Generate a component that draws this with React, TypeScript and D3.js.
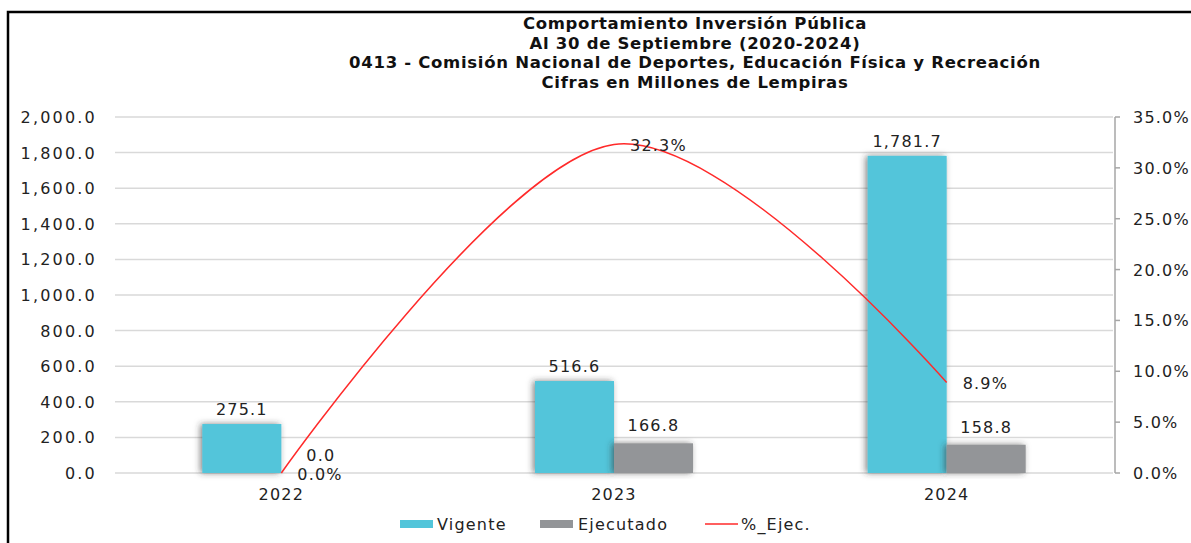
import { useEffect, useRef } from "react"
import * as d3 from "d3"

// chart data
const categories = ["2022", "2023", "2024"]
const vigente = [275.1, 516.6, 1781.7]
const ejecutado = [0.0, 166.8, 158.8]
const pctEjec = [0.0, 32.3, 8.9]
const leftTicks = [0, 200, 400, 600, 800, 1000, 1200, 1400, 1600, 1800, 2000]
const rightTicks = [0, 5, 10, 15, 20, 25, 30, 35]
const titleLines = [
	"Comportamiento Inversión Pública",
	"Al 30 de Septiembre (2020-2024)",
	"0413 - Comisión Nacional de Deportes, Educación Física y Recreación",
	"Cifras en Millones de Lempiras",
]

const FONT = "'DejaVu Sans', sans-serif"
const CYAN = "#52c5da"
const GRAY = "#939598"
const RED = "#ff2a2a"

const App = () => {
	const svgRef = useRef(null)

	useEffect(() => {
		document.body.style.margin = "0"
		const width = 1191
		const height = 543
		const svg = d3.select(svgRef.current).attr("width", width).attr("height", height)
		svg.selectAll("*").remove()

		const left = 115
		const right = 1113
		const top = 117
		const bottom = 473

		// soft shadow behind the bars
		const defs = svg.append("defs")
		const f = defs.append("filter").attr("id", "shadow").attr("x", "-20%").attr("y", "-20%").attr("width", "140%").attr("height", "140%")
		f.append("feDropShadow")
			.attr("dx", -2)
			.attr("dy", 0)
			.attr("stdDeviation", 3)
			.attr("flood-color", "#333")
			.attr("flood-opacity", 0.6)

		// frame
		svg.append("rect").attr("x", 8).attr("y", 12).attr("width", 1300).attr("height", 600)
			.attr("fill", "white").attr("stroke", "black").attr("stroke-width", 2.5)

		// title
		svg.append("g").selectAll("text").data(titleLines).enter().append("text")
			.attr("x", 695)
			.attr("y", (d, i) => 29 + i * 19.5)
			.attr("text-anchor", "middle")
			.attr("font-family", FONT)
			.attr("font-weight", "bold")
			.attr("font-size", 16.5)
			.attr("letter-spacing", 0.7)
			.attr("fill", "#111")
			.text(d => d)

		const x0 = d3.scaleBand().domain(categories).range([left, right]).paddingInner(0.525).paddingOuter(0.2625)
		const x1 = d3.scaleBand().domain(["v", "e"]).range([0, x0.bandwidth()])
		const y = d3.scaleLinear().domain([0, 2000]).range([bottom, top])
		const y2 = d3.scaleLinear().domain([0, 35]).range([bottom, top])

		// gridlines
		svg.append("g").selectAll("line").data(leftTicks).enter().append("line")
			.attr("x1", left).attr("x2", right)
			.attr("y1", d => y(d)).attr("y2", d => y(d))
			.attr("stroke", "#d9d9d9").attr("stroke-width", 1.5)

		// left axis labels
		svg.append("g").selectAll("text").data(leftTicks).enter().append("text")
			.attr("x", 97).attr("y", d => y(d) + 6)
			.attr("text-anchor", "end")
			.attr("font-family", FONT).attr("font-size", 16).attr("letter-spacing", 2.2)
			.attr("fill", "#222")
			.text(d => d3.format(",.1f")(d))

		// right axis
		const rAxis = svg.append("g").attr("transform", `translate(${right + 2},0)`)
		rAxis.append("line").attr("x1", 0).attr("x2", 0).attr("y1", top).attr("y2", bottom).attr("stroke", "#a6a6a6").attr("stroke-width", 1.5)
		rAxis.selectAll("line.t").data(rightTicks).enter().append("line").attr("class", "t")
			.attr("x1", 0).attr("x2", 5).attr("y1", d => y2(d)).attr("y2", d => y2(d))
			.attr("stroke", "#a6a6a6").attr("stroke-width", 1.5)
		rAxis.selectAll("text").data(rightTicks).enter().append("text")
			.attr("x", 18).attr("y", d => y2(d) + 6)
			.attr("font-family", FONT).attr("font-size", 16).attr("letter-spacing", 1.2)
			.attr("fill", "#222")
			.text(d => d3.format(".1f")(d) + "%")

		// bars
		const groups = svg.append("g").selectAll("g").data(categories).enter().append("g")
			.attr("transform", d => `translate(${x0(d)},0)`)
		groups.append("rect")
			.attr("x", x1("v")!).attr("width", x1.bandwidth())
			.attr("y", (d, i) => y(vigente[i])).attr("height", (d, i) => bottom - y(vigente[i]))
			.attr("fill", CYAN).attr("filter", "url(#shadow)")
		groups.append("rect")
			.attr("x", x1("e")!).attr("width", x1.bandwidth())
			.attr("y", (d, i) => y(ejecutado[i])).attr("height", (d, i) => bottom - y(ejecutado[i]))
			.attr("fill", GRAY).attr("filter", "url(#shadow)")

		// bar labels
		const lbl = (sel: any) => sel.attr("font-family", FONT).attr("font-size", 16).attr("letter-spacing", 1.2).attr("fill", "#222")
		groups.append("text")
			.attr("x", x1("v")! + x1.bandwidth() / 2)
			.attr("y", (d, i) => y(vigente[i]) - 9)
			.attr("text-anchor", "middle")
			.call(lbl)
			.text((d, i) => d3.format(",.1f")(vigente[i]))
		groups.append("text")
			.attr("x", x1("e")! + x1.bandwidth() / 2)
			.attr("y", (d, i) => y(ejecutado[i]) - 12)
			.attr("text-anchor", "middle")
			.call(lbl)
			.text((d, i) => d3.format(",.1f")(ejecutado[i]))

		// % line
		const cx = (d: string) => x0(d)! + x0.bandwidth() / 2
		const pts = categories.map((c, i) => [cx(c), y2(pctEjec[i])] as [number, number])
		svg.append("path")
			.attr("d", d3.line().curve(d3.curveCatmullRom.alpha(0))(pts))
			.attr("fill", "none").attr("stroke", RED).attr("stroke-width", 1.5)
		svg.append("g").selectAll("text").data(categories).enter().append("text")
			.attr("x", d => cx(d) + 16)
			.attr("y", (d, i) => y2(pctEjec[i]) + 7)
			.call(lbl)
			.text((d, i) => d3.format(".1f")(pctEjec[i]) + "%")

		// category labels
		svg.append("g").selectAll("text").data(categories).enter().append("text")
			.attr("x", d => cx(d)).attr("y", 500)
			.attr("text-anchor", "middle")
			.call(lbl)
			.text(d => d)

		// legend
		const legend = svg.append("g").attr("transform", "translate(0,524)")
		legend.append("rect").attr("x", 400).attr("y", -4).attr("width", 33).attr("height", 8).attr("fill", CYAN)
		legend.append("text").attr("x", 437).attr("y", 6).call(lbl).text("Vigente")
		legend.append("rect").attr("x", 540).attr("y", -4).attr("width", 33).attr("height", 8).attr("fill", GRAY)
		legend.append("text").attr("x", 578).attr("y", 6).call(lbl).text("Ejecutado")
		legend.append("line").attr("x1", 705).attr("x2", 738).attr("y1", 0).attr("y2", 0).attr("stroke", RED).attr("stroke-width", 1.5)
		legend.append("text").attr("x", 741).attr("y", 6).call(lbl).text("%_Ejec.")
	}, [])

	return <svg ref={svgRef} style={{ display: "block" }}></svg>
}

export default App
